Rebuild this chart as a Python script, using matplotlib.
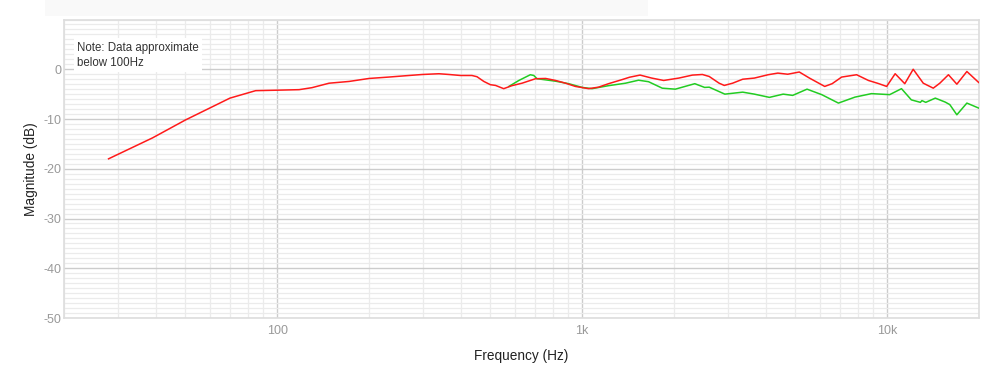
import matplotlib
matplotlib.use("Agg")
import matplotlib.pyplot as plt
from matplotlib.ticker import FixedLocator, MultipleLocator, NullFormatter
from matplotlib.patches import Rectangle

plt.rcParams['font.family'] = ['Liberation Sans', 'DejaVu Sans']
plt.rcParams['axes.unicode_minus'] = False

# Red series (frequency Hz, magnitude dB)
red_freq = [28, 39, 50, 70, 85, 101, 118, 130, 148, 172, 200, 232, 264, 299, 339, 366,
            399, 435, 452, 476, 500, 520, 553, 588, 635, 676, 703, 759, 818, 882, 950,
            1050, 1131, 1220, 1348, 1430, 1548, 1690, 1850, 2075, 2298, 2478, 2609,
            2812, 2923, 3113, 3360, 3670, 4070, 4380, 4720, 5150, 5560, 6240, 6600,
            7090, 7940, 8680, 9340, 9960, 10620, 11420, 12170, 13130, 14160, 14880,
            15880, 16920, 18250, 19950]
red_db = [-18.0, -13.8, -10.2, -5.8, -4.3, -4.2, -4.1, -3.7, -2.8, -2.45, -1.85, -1.57,
          -1.3, -1.05, -0.9, -1.05, -1.25, -1.25, -1.5, -2.45, -3.1, -3.25, -3.9, -3.3,
          -2.8, -2.25, -1.9, -1.85, -2.25, -2.8, -3.45, -3.9, -3.6, -2.9, -2.1, -1.6,
          -1.17, -1.77, -2.25, -1.77, -1.17, -1.05, -1.45, -2.8, -3.25, -2.8, -2.0,
          -1.77, -1.1, -0.77, -1.0, -0.55, -1.77, -3.45, -2.9, -1.57, -1.1, -2.25,
          -2.85, -3.45, -0.9, -2.9, 0.0, -2.8, -3.8, -2.8, -1.1, -3.0, -0.45, -2.65]

# Green series
green_freq = [575, 620, 676, 694, 711, 818, 903, 1000, 1077, 1220, 1387, 1530, 1650, 1830,
              2020, 2340, 2520, 2609, 2936, 3360, 3670, 4110, 4560, 4900, 5460, 6100,
              6920, 7840, 8880, 10190, 11140, 12000, 12850, 13000, 13380, 14380, 15500,
              16040, 16920, 18250, 19950]
green_db = [-3.45, -2.25, -1.1, -1.25, -1.9, -2.4, -2.9, -3.65, -3.9, -3.3, -2.8, -2.2,
            -2.5, -3.8, -4.0, -2.9, -3.65, -3.6, -5.0, -4.6, -5.0, -5.65, -5.0, -5.25,
            -4.0, -5.1, -6.8, -5.6, -4.9, -5.1, -3.9, -6.15, -6.65, -6.3, -6.65, -5.8,
            -6.6, -7.1, -9.15, -6.8, -7.8]

x_ticks = [100, 1000, 10000]
x_tick_labels = ["100", "1k", "10k"]
y_ticks = [0, -10, -20, -30, -40, -50]
note_text = "Note: Data approximate\nbelow 100Hz"

fig = plt.figure(figsize=(10, 3.88), dpi=100)
fig.patches.append(Rectangle((0.045, 0.958), 0.603, 0.042, transform=fig.transFigure,
                             facecolor='#f9f9f9', edgecolor='none', zorder=0))
ax = fig.add_axes([0.064, 0.1804, 0.915, 0.7693])
ax.set_xscale('log')
ax.set_xlim(20, 20000)
ax.set_ylim(-50, 10)

ax.xaxis.set_major_locator(FixedLocator(x_ticks))
ax.set_xticklabels(x_tick_labels)
minor_x = [m * d for d in (10, 100, 1000, 10000) for m in range(2, 10) if 20 <= m * d <= 20000]
ax.xaxis.set_minor_locator(FixedLocator(minor_x))
ax.xaxis.set_minor_formatter(NullFormatter())
ax.yaxis.set_major_locator(FixedLocator(y_ticks))
ax.yaxis.set_minor_locator(MultipleLocator(1))

ax.grid(which='major', color='#cccccc', linewidth=1.0, zorder=0)
ax.grid(which='minor', color='#ebebeb', linewidth=0.9, zorder=0)
ax.set_axisbelow(True)
ax.tick_params(which='both', length=0)
ax.tick_params(axis='both', labelsize=9, labelcolor='#999999')
ax.tick_params(axis='y', pad=2)
ax.tick_params(axis='x', pad=5)

for s in ax.spines.values():
    s.set_color('#dddddd')
    s.set_linewidth(1.2)

ax.plot(green_freq, green_db, color='#22cc22', linewidth=1.1, zorder=3,
        solid_joinstyle='round')
ax.plot(red_freq, red_db, color='#ff1a1a', linewidth=1.1, zorder=4,
        solid_joinstyle='round')

ax.set_xlabel("Frequency (Hz)", fontsize=9.8, color='#222222', labelpad=9)
ax.set_ylabel("Magnitude (dB)", fontsize=9.8, color='#222222', labelpad=4)

ax.text(0.0145, 0.925, note_text, transform=ax.transAxes, fontsize=8.3, color='#333333',
        va='top', ha='left', linespacing=1.32,
        bbox=dict(facecolor='white', edgecolor='none', boxstyle='square,pad=0.3'), zorder=5)

fig.savefig("out.png", dpi=100, facecolor='white')
